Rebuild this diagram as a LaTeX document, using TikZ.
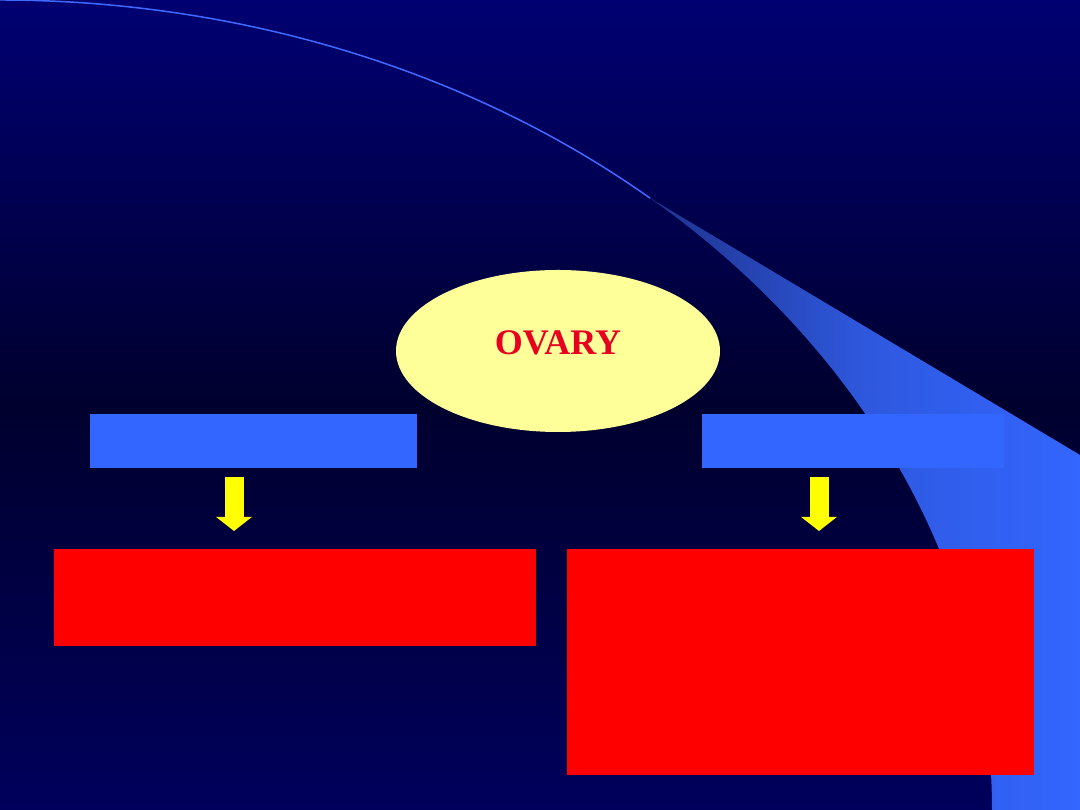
\documentclass[tikz,border=0pt]{standalone}
\usepackage{fontspec}
\setmainfont{Liberation Serif}
\usetikzlibrary{shapes.geometric,arrows.meta}
\definecolor{bgtop}{RGB}{0,0,114}
\definecolor{bgmid}{RGB}{0,0,46}
\definecolor{bgbot}{RGB}{0,0,92}
\definecolor{swdark}{RGB}{30,50,140}
\definecolor{swmid}{RGB}{46,88,222}
\definecolor{slideblue}{RGB}{51,102,255}
\definecolor{arcblue}{RGB}{64,105,255}
\definecolor{paleyellow}{RGB}{255,255,153}
\definecolor{ovaryred}{RGB}{232,0,32}
\definecolor{boxred}{RGB}{255,0,0}
\definecolor{arrowyellow}{RGB}{255,255,0}
\tikzset{
  ovalshape/.style={ellipse, fill=paleyellow, draw=none, inner sep=0pt,
    minimum width=324pt, minimum height=162pt},
  ovarytext/.style={text=ovaryred, font=\fontsize{36}{40}\selectfont\bfseries, inner sep=0pt},
  bluebar/.style={rectangle, fill=slideblue, draw=none, inner sep=0pt, minimum height=54pt},
  redbox/.style={rectangle, fill=boxred, draw=none, inner sep=0pt},
  blockarrow/.style={draw=arrowyellow, line width=19pt,
    -{Triangle[width=35pt,length=14pt,fill=arrowyellow]}}
}
\begin{document}
\begin{tikzpicture}[x=1pt,y=1pt]
\useasboundingbox (0,0) rectangle (1080,810);
% background
\shade[top color=bgtop, bottom color=bgbot, middle color=bgmid] (0,0) rectangle (1080,810);
% swoosh
\shade[left color=swdark, right color=slideblue, middle color=swmid]
  (650,612) -- (1080,355) -- (1080,0) -- (992,0)
  arc[start angle=0, end angle=49.06, x radius=992, y radius=810] -- cycle;
% thin arc line
\draw[arcblue, line width=1.5pt] (0,810) arc[start angle=90, end angle=49.06, x radius=992, y radius=810];
% ellipse
\node[ovalshape] (ovary) at (558,459) {};
\node[ovarytext] (ovarylabel) at (558,467) {OVARY};
% blue bars
\node[bluebar, minimum width=327pt] (barL) at (253.5,369) {};
\node[bluebar, minimum width=302pt] (barR) at (853,369) {};
% red boxes
\node[redbox, minimum width=482pt, minimum height=97pt] (boxL) at (295,212.5) {};
\node[redbox, minimum width=467pt, minimum height=226pt] (boxR) at (800.5,148) {};
% arrows
\coordinate (aLs) at (234,333);
\coordinate (aLe) at (234,279);
\coordinate (aRs) at (819,333);
\coordinate (aRe) at (819,279);
\draw[blockarrow] (aLs) -- (aLe);
\draw[blockarrow] (aRs) -- (aRe);
\end{tikzpicture}
\end{document}
